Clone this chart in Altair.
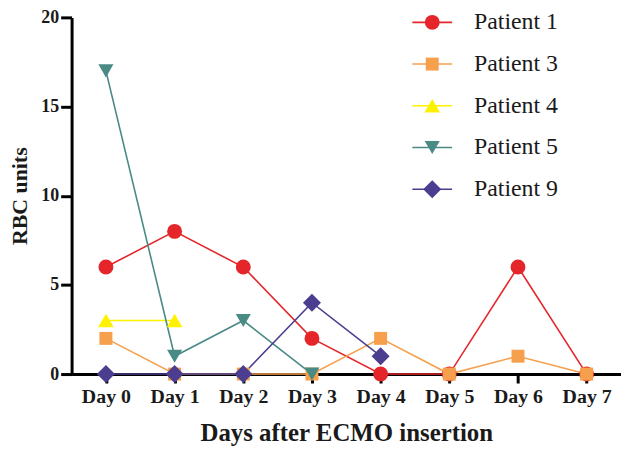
import altair as alt
import pandas as pd

days = ["Day 0", "Day 1", "Day 2", "Day 3", "Day 4", "Day 5", "Day 6", "Day 7"]
patients = ["Patient 1", "Patient 3", "Patient 4", "Patient 5", "Patient 9"]

p1 = [6, 8, 6, 2, 0, 0, 6, 0]
p3 = [2, 0, 0, 0, 2, 0, 1, 0]
p4 = [3, 3, None, None, None, None, None, None]
p5 = [17, 1, 3, 0, None, None, None, None]
p9 = [0, 0, 0, 4, 1, None, None, None]

colors = ["#e4262b", "#f6a04d", "#fff100", "#4a8a84", "#4b3d8f"]
shapes = ["circle", "square", "triangle-up", "triangle-down", "diamond"]
sizes = [225, 170, 250, 230, 330]

series = [p1, p3, p4, p5, p9]
rows = []
for name, vals in zip(patients, series):
    for d, v in zip(days, vals):
        if v is not None:
            rows.append({"patient": name, "day": d, "rbc": v})
df = pd.DataFrame(rows)
leg_df = pd.DataFrame({"patient": patients})

FONT = "Liberation Serif"
INK = "#1a1a1a"

color = alt.Color("patient:N", scale=alt.Scale(domain=patients, range=colors), legend=None)

x = alt.X(
    "day:O",
    sort=days,
    scale=alt.Scale(domain=days, padding=0.5),
    axis=alt.Axis(
        title="Days after ECMO insertion",
        labelAngle=0,
        tickSize=9,
        tickWidth=3,
        tickColor="black",
        domainWidth=3,
        domainColor="black",
        labelFont=FONT,
        labelFontWeight="bold",
        labelFontSize=20,
        labelColor=INK,
        labelPadding=4,
        titleFont=FONT,
        titleFontWeight="bold",
        titleFontSize=25,
        titleColor=INK,
        titlePadding=14,
        grid=False,
    ),
)
y = alt.Y(
    "rbc:Q",
    scale=alt.Scale(domain=[0, 20], nice=False),
    axis=alt.Axis(
        values=[0, 5, 10, 15, 20],
        title="RBC units",
        tickSize=11,
        tickWidth=3,
        tickColor="black",
        domainWidth=3,
        domainColor="black",
        labelFont=FONT,
        labelFontWeight="bold",
        labelFontSize=18,
        labelColor=INK,
        labelPadding=2,
        titleFont=FONT,
        titleFontWeight="bold",
        titleFontSize=22,
        titleColor=INK,
        titlePadding=9,
        grid=False,
    ),
)

base = alt.Chart(df)
lines = base.mark_line(strokeWidth=1.6).encode(x=x, y=y, color=color, detail="patient:N")

point_layers = []
for name, sh, sz in zip(patients, shapes, sizes):
    point_layers.append(
        base.transform_filter(alt.datum.patient == name)
        .mark_point(filled=True, opacity=1, strokeWidth=0, shape=sh, size=sz)
        .encode(x=x, y=y, color=color)
    )

ly = alt.Y(
    "patient:N",
    sort=patients,
    scale=alt.Scale(type="point", domain=patients, range=[5, 173], padding=0),
    axis=None,
)
lbase = alt.Chart(leg_df)
leg_rule = lbase.mark_rule(strokeWidth=1.6).encode(
    x=alt.value(343), x2=alt.value(383), y=ly, color=color
)
leg_pts = []
for name, sh, sz in zip(patients, shapes, sizes):
    leg_pts.append(
        lbase.transform_filter(alt.datum.patient == name)
        .mark_point(filled=True, opacity=1, strokeWidth=0, shape=sh, size=sz)
        .encode(x=alt.value(363), y=ly, color=color)
    )
leg_txt = lbase.mark_text(
    align="left", baseline="middle", font=FONT, fontSize=24, fontWeight="normal", color=INK
).encode(x=alt.value(405), y=ly, text="patient:N")

main = alt.layer(lines, *point_layers)
legend = alt.layer(leg_rule, *leg_pts, leg_txt)

chart = (
    alt.layer(main, legend)
    .resolve_scale(y="independent")
    .properties(
        width=553,
        height=359,
        padding={"left": 64, "top": 8, "right": 0, "bottom": 76},
        autosize=alt.AutoSizeParams(type="none"),
        background="white",
    )
    .configure_view(stroke=None)
)

chart.save("out.html", embed_options={"renderer": "svg", "actions": False})
